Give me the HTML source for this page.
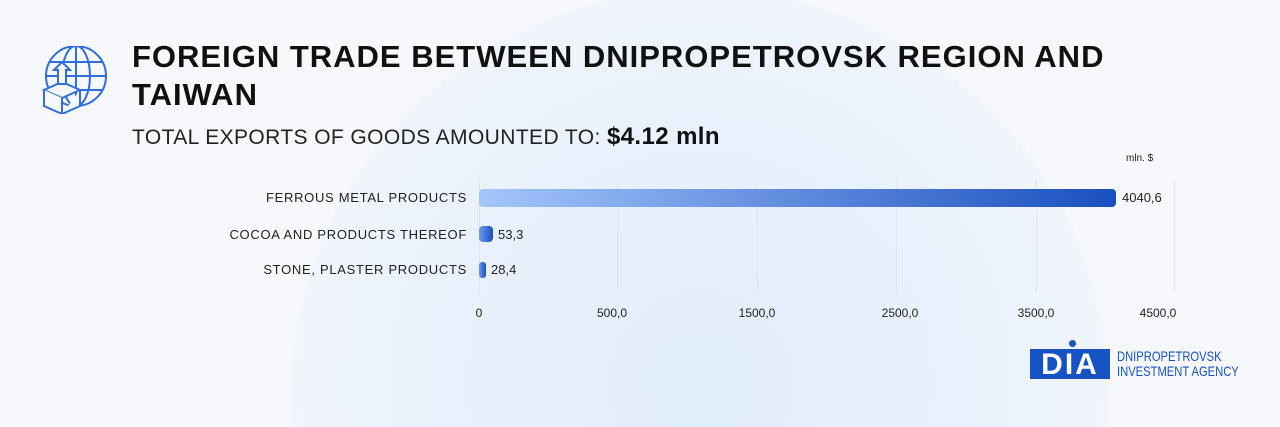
<!DOCTYPE html>
<html><head><style>
html,body{margin:0;width:1280px;height:427px;overflow:hidden}
#c{position:relative;width:1280px;height:427px;overflow:hidden;background:#f6f8fb;font-family:"Liberation Sans",sans-serif}
.circ{position:absolute;left:290px;top:-10px;width:820px;height:437px;border-radius:410px 410px 0 0;background:radial-gradient(circle at 50% 90%,#e2edfb 0%,#e9f1fc 45%,#f2f6fc 75%,#f6f8fb 100%)}
.t{position:absolute;font-weight:bold;color:#111;font-size:31px;letter-spacing:1px;line-height:38px}
.lbl{position:absolute;right:813px;font-size:13px;color:#222;letter-spacing:0.7px}
.v{position:absolute;font-size:13px;color:#222}
.g{position:absolute;top:180px;height:112px;width:1px;background:#dde4ee}
.x{position:absolute;top:306px;font-size:12px;color:#222;transform:translateX(-50%)}
.bar{position:absolute;left:479px;border-radius:4px}
</style></head><body><div id="c">
<div class="circ"></div>
<svg style="position:absolute;left:42px;top:46px" width="68" height="68" viewBox="0 0 68 68" fill="none" stroke="#2f6ee0" stroke-width="2">
<circle cx="34" cy="30" r="30"/><ellipse cx="34" cy="30" rx="14" ry="30"/><line x1="34" y1="0" x2="34" y2="60"/><line x1="4" y1="30" x2="64" y2="30"/><line x1="8" y1="16" x2="60" y2="16"/><line x1="8" y1="44" x2="60" y2="44"/>
<path d="M2 44 L20 36 L38 44 L20 52 Z" fill="#f6f8fb"/><path d="M2 44 V60 L20 68 V52 M38 44 V60 L20 68" fill="#f6f8fb"/>
<path d="M20 16 L28 24 H24 V38 H16 V24 H12 Z" fill="#f6f8fb"/>
</svg>
<div class="t" style="left:132px;top:38px">FOREIGN TRADE BETWEEN DNIPROPETROVSK REGION AND<br>TAIWAN</div>
<div style="position:absolute;left:132px;top:123px;font-size:21px;color:#222;letter-spacing:0.4px">TOTAL EXPORTS OF GOODS AMOUNTED TO: <b style="font-size:24px;color:#111">$4.12 mln</b></div>
<div style="position:absolute;left:1126px;top:153px;font-size:10px;color:#222">mln. $</div>
<div class="g" style="left:479px"></div><div class="g" style="left:617px"></div><div class="g" style="left:757px"></div><div class="g" style="left:896px"></div><div class="g" style="left:1036px"></div><div class="g" style="left:1174px"></div>
<div class="lbl" style="top:190px">FERROUS METAL PRODUCTS</div>
<div class="lbl" style="top:227px">COCOA AND PRODUCTS THEREOF</div>
<div class="lbl" style="top:262px">STONE, PLASTER PRODUCTS</div>
<div class="bar" style="top:189px;height:18px;width:637px;background:linear-gradient(90deg,#a3c6fb,#1a4fbf)"></div>
<div class="bar" style="top:226px;height:16px;width:14px;background:linear-gradient(90deg,#6b9cf0,#1a4fbf)"></div>
<div class="bar" style="top:262px;height:16px;width:7px;background:linear-gradient(90deg,#6b9cf0,#1a4fbf);border-radius:3px"></div>
<div class="v" style="left:1122px;top:190px">4040,6</div>
<div class="v" style="left:498px;top:227px">53,3</div>
<div class="v" style="left:491px;top:262px">28,4</div>
<div class="x" style="left:479px">0</div><div class="x" style="left:612px">500,0</div><div class="x" style="left:757px">1500,0</div><div class="x" style="left:900px">2500,0</div><div class="x" style="left:1036px">3500,0</div><div class="x" style="left:1158px">4500,0</div>
<div style="position:absolute;left:1030px;top:349px;width:80px;height:30px;background:#1552c4;color:#fff;font-weight:bold;font-size:30px;line-height:31px;text-align:center;letter-spacing:2px">DIA</div>
<div style="position:absolute;left:1069px;top:340px;width:7px;height:7px;border-radius:50%;background:#1552c4"></div>
<div style="position:absolute;left:1117px;top:349px;font-size:14px;line-height:15px;color:#1552c4;transform:scaleX(0.8);transform-origin:left">DNIPROPETROVSK<br>INVESTMENT AGENCY</div>
</div></body></html>
